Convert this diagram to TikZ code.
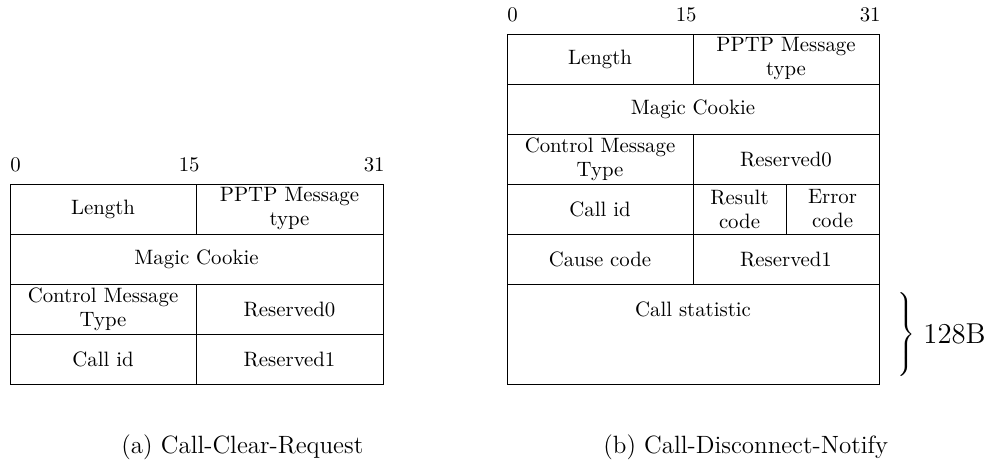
\documentclass[tikz,border=0pt]{standalone}
\usepackage{amsmath,amssymb}
\usetikzlibrary{positioning}

\begin{document}
\begin{tikzpicture}[x=0.5pt, y=-0.5pt,
  field/.style={draw, anchor=north west, minimum height=25pt, inner sep=1pt, outer sep=0pt, align=center, font=\fontsize{10.4}{12}\selectfont},
  half/.style={field, minimum width=93pt},
  quarter/.style={field, minimum width=46.5pt},
  full/.style={field, minimum width=186.5pt},
  bit/.style={inner sep=0pt, font=\fontsize{10.4}{12}\selectfont},
  caption/.style={anchor=base west, inner sep=0pt, font=\fontsize{12.5}{15}\selectfont}]
\useasboundingbox (0,0) rectangle (989,463);
% (a) Call-Clear-Request
\node[half] (lenA) at (10,184) {Length};
\node[half, minimum width=93.5pt] (typeA) at (lenA.north east) {PPTP Message\\type};
\node[full] (cookieA) at (lenA.south west) {Magic Cookie};
\node[half] (ctrlA) at (cookieA.south west) {Control Message\\Type};
\node[half, minimum width=93.5pt] (resA) at (ctrlA.north east) {Reserved0};
\node[half] (callA) at (ctrlA.south west) {Call id};
\node[half, minimum width=93.5pt] (resbA) at (callA.north east) {Reserved1};
\node[bit, anchor=base west] (zeroA) at ([yshift=6.5pt]lenA.north west) {0};
\node[bit, anchor=base east] (midA) at ([xshift=2pt, yshift=6.5pt]lenA.north east) {15};
\node[bit, anchor=base east] (lastA) at ([xshift=1pt, yshift=6.5pt]typeA.north east) {31};
\node[caption] (capA) at (121,453) {(a) Call-Clear-Request};
% (b) Call-Disconnect-Notify
\node[half] (lenB) at (507,34) {Length};
\node[half] (typeB) at (lenB.north east) {PPTP Message\\type};
\node[full, minimum width=186pt] (cookieB) at (lenB.south west) {Magic Cookie};
\node[half] (ctrlB) at (cookieB.south west) {Control Message\\Type};
\node[half] (resB) at (ctrlB.north east) {Reserved0};
\node[half] (callB) at (ctrlB.south west) {Call id};
\node[quarter] (resultB) at (callB.north east) {Result\\code};
\node[quarter] (errorB) at (resultB.north east) {Error\\code};
\node[half] (causeB) at (callB.south west) {Cause code};
\node[half] (resbB) at (causeB.north east) {Reserved1};
\node[full, minimum width=186pt, minimum height=50pt] (statB) at (causeB.south west) {};
\node[bit] (statT) at ([yshift=-12.5pt]statB.north) {Call statistic};
\node[bit, anchor=base west] (zeroB) at ([yshift=6.5pt]lenB.north west) {0};
\node[bit, anchor=base east] (midB) at ([xshift=2pt, yshift=6.5pt]lenB.north east) {15};
\node[bit, anchor=base east] (lastB) at ([xshift=1pt, yshift=6.5pt]typeB.north east) {31};
\node[inner sep=0pt, anchor=west] (brace) at ([xshift=8pt]statB.east) {$\left.\vcenter{\hbox{\rule{0pt}{40pt}}}\right\}$};
\node[font=\Large, inner sep=0pt, right=3.5pt of brace] (size) {128B};
\node[caption] (capB) at (603,453) {(b) Call-Disconnect-Notify};
\end{tikzpicture}
\end{document}
